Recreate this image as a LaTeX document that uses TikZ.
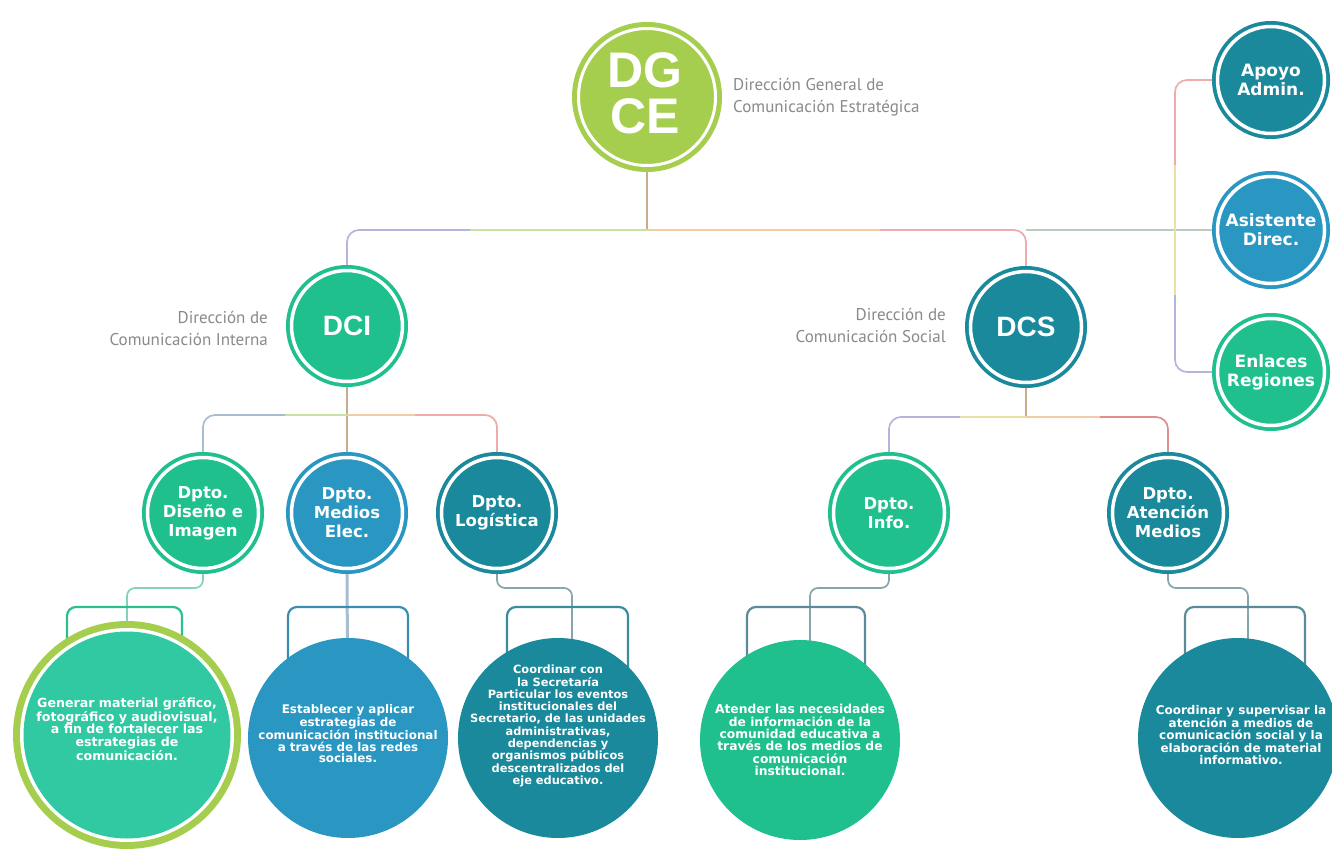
\documentclass[tikz,border=0pt]{standalone}
\usepackage{fontspec}
\setmainfont{Liberation Sans}
\newfontfamily\dvfont{DejaVu Sans}
\newfontfamily\labfont{PT Sans}
\pgfdeclarelayer{bg}
\pgfdeclarelayer{lines}
\pgfsetlayers{bg,lines,main}
\definecolor{lime}{HTML}{A6CE4E}
\definecolor{cgreen}{HTML}{1FBF8E}
\definecolor{cturq}{HTML}{30C9A2}
\definecolor{cblue}{HTML}{2A97C3}
\definecolor{cteal}{HTML}{19899B}
\definecolor{labgray}{HTML}{8A8A8A}
\definecolor{lTan}{HTML}{C9AC8C}
\definecolor{lLav}{HTML}{B5B4DC}
\definecolor{lGrn}{HTML}{C6E3A6}
\definecolor{lYel}{HTML}{E9E2A4}
\definecolor{lOrg}{HTML}{F4CBA6}
\definecolor{lPnk}{HTML}{EFAAAA}
\definecolor{lRed}{HTML}{E08E8E}
\definecolor{lGry}{HTML}{BCCBC2}
\definecolor{lBlu}{HTML}{A8BCD2}
\definecolor{lTl}{HTML}{86A6AE}
\definecolor{lTg}{HTML}{86D2B9}
\definecolor{bGrn}{HTML}{2BBE8E}
\definecolor{bBlu}{HTML}{3A8DB0}
\definecolor{bTl}{HTML}{3A8B9B}
\definecolor{bGy}{HTML}{5B8A98}
\begin{document}
\begin{tikzpicture}[x=1pt,y=-1pt,
 connline/.style={line width=1.7pt, rounded corners=12pt},
 brkline/.style={line width=2.2pt, rounded corners=9pt},
 unitbox/.style={circle, inner sep=0pt, text=white, align=center},
 deptbox/.style={unitbox, minimum size=122pt, font=\dvfont\bfseries\fontsize{16.5}{19}\selectfont,
   path picture={\draw[white,line width=3.5pt] (path picture bounding box.center) circle (55.5pt);}},
 sidebox/.style={unitbox, minimum size=118pt, font=\dvfont\bfseries\fontsize{17}{19}\selectfont,
   path picture={\draw[white,line width=3.5pt] (path picture bounding box.center) circle (53.5pt);}},
 dirbox/.style={deptbox, font=\bfseries\fontsize{28}{30}\selectfont},
 desccirc/.style={circle, inner sep=0pt, minimum size=200pt},
 desctext/.style={text=white, align=center, font=\dvfont\bfseries\fontsize{12.3}{12.3}\selectfont, inner sep=0pt},
 labtext/.style={text=labgray, font=\labfont\fontsize{17}{22}\selectfont, inner sep=0pt},
]
\useasboundingbox (0,0) rectangle (1332,848);
\begin{pgfonlayer}{bg}
\fill[white] (0,0) rectangle (1332,848);
\end{pgfonlayer}

% top
\node[unitbox, minimum size=150pt, fill=lime,
  path picture={\draw[white,line width=3pt] (path picture bounding box.center) circle (68.5pt);}]
  (DGCE) at (647,97) {};
\node[text=white, align=center, inner sep=0pt, font=\bfseries\fontsize{50}{46}\selectfont] (DGCEt) at (645,93) {DG\\CE};
\node[labtext, anchor=west, align=left] (DGCElab) at (733,97) {Dirección General de\\Comunicación Estratégica};

% directions
\node[dirbox, fill=cgreen] (DCI) at (347,326) {DCI};
\node[labtext, anchor=east, align=right] (DCIlab) at (268,328) {Dirección de\\Comunicación Interna};
\node[dirbox, fill=cteal] (DCS) at (1026,327) {DCS};
\node[labtext, anchor=east, align=right] (DCSlab) at (946,325) {Dirección de\\Comunicación Social};

% right column
\node[sidebox, fill=cteal] (Apoyo) at (1271,80) {Apoyo\\Admin.};
\node[sidebox, fill=cblue] (Asist) at (1271,230) {Asistente\\Direc.};
\node[sidebox, fill=cgreen] (Enlaces) at (1271,372) {Enlaces\\Regiones};

% departments
\node[deptbox, fill=cgreen] (Diseno) at (203,513) {Dpto.\\Diseño e\\Imagen};
\node[deptbox, fill=cblue] (Medios) at (347,513) {Dpto.\\Medios\\Elec.};
\node[deptbox, fill=cteal] (Logistica) at (497,513) {Dpto.\\Logística};
\node[deptbox, fill=cgreen] (Info) at (889,513) {Dpto.\\Info.};
\node[deptbox, fill=cteal] (Atencion) at (1168,513) {Dpto.\\Atención\\Medios};

% descriptions
\node[desccirc, minimum size=228pt, fill=lime,
  path picture={\fill[white] (path picture bounding box.center) circle (107pt);
                \fill[cturq] (path picture bounding box.center) circle (103.5pt);}] (D1) at (127,735) {};
\node[desctext, font=\dvfont\bfseries\fontsize{12.6}{12.3}\selectfont] (D1t) at (127,729) {Generar material gráfico,\\fotográfico y audiovisual,\\a fin de fortalecer las\\estrategias de\\comunicación.};
\node[desccirc, fill=cblue] (D2) at (348,738) {};
\node[desctext, font=\dvfont\bfseries\fontsize{11.9}{11.6}\selectfont] (D2t) at (348,734) {Establecer y aplicar\\estrategias de\\comunicación institucional\\a través de las redes\\sociales.};
\node[desccirc, fill=cteal] (D3) at (558,738) {};
\node[desctext, font=\dvfont\bfseries\fontsize{11.4}{12.3}\selectfont] (D3t) at (558,726) {Coordinar con\\la Secretaría\\Particular los eventos\\institucionales del\\Secretario, de las unidades\\administrativas,\\dependencias y\\organismos públicos\\descentralizados del\\eje educativo.};
\node[desccirc, fill=cgreen] (D4) at (800,740) {};
\node[desctext] (D4t) at (800,740) {Atender las necesidades\\de información de la\\comunidad educativa a\\través de los medios de\\comunicación\\institucional.};
\node[desccirc, fill=cteal] (D5) at (1238,738) {};
\node[desctext, font=\dvfont\bfseries\fontsize{12}{12}\selectfont] (D5t) at (1241,735) {Coordinar y supervisar la\\atención a medios de\\comunicación social y la\\elaboración de material\\informativo.};

\begin{pgfonlayer}{lines}
% main bus
\coordinate (bus) at (647,230);
\coordinate (busL) at (470,230);
\coordinate (busR) at (880,230);
\coordinate (busS) at (1026,230);
\coordinate (brkT) at (1175,165);
\coordinate (brkB) at (1175,295);
\draw[connline, lTan] (DGCE.south) -- (bus);
\draw[connline, lGrn] (bus) -- (busL);
\draw[connline, lLav] (busL) -| (DCI.north);
\draw[connline, lOrg] (bus) -- (busR);
\draw[connline, lPnk] (busR) -| (DCS.north);
\draw[connline, lGry] (busS) -- (Asist.west);
\draw[connline, lPnk] (Apoyo.west) -| (brkT);
\draw[connline, lYel] (brkT) -- (brkB);
\draw[connline, lLav] (brkB) |- (Enlaces.west);
% DCI level
\coordinate (ciB) at (347,415);
\coordinate (ciL) at (285,415);
\coordinate (ciR) at (415,415);
\draw[connline, lTan] (DCI.south) -- (Medios.north);
\draw[connline, lGrn] (ciB) -- (ciL);
\draw[connline, lBlu] (ciL) -| (Diseno.north);
\draw[connline, lOrg] (ciB) -- (ciR);
\draw[connline, lPnk] (ciR) -| (Logistica.north);
% DCS level
\coordinate (csB) at (1026,417);
\coordinate (csL) at (960,417);
\coordinate (csR) at (1100,417);
\draw[connline, lTan] (DCS.south) -- (csB);
\draw[connline, lYel] (csB) -- (csL);
\draw[connline, lLav] (csL) -| (Info.north);
\draw[connline, lOrg] (csB) -- (csR);
\draw[connline, lRed] (csR) -| (Atencion.north);
% lower connectors
\coordinate (k1) at (127,588);
\coordinate (k3) at (572,588);
\coordinate (k3e) at (572,680);
\coordinate (k4) at (810,588);
\coordinate (k4e) at (810,680);
\coordinate (k5) at (1248,588);
\coordinate (k5e) at (1248,680);
\draw[connline, lTg, rounded corners=8pt] (Diseno.south) |- (k1) -- (D1);
\draw[connline, lBlu, line width=3pt] (Medios.south) -- (D2);
\draw[connline, lTl, rounded corners=8pt] (Logistica.south) |- (k3) -- (k3e);
\draw[connline, lTl, rounded corners=8pt] (Info.south) |- (k4) -- (k4e);
\draw[connline, lTl, rounded corners=8pt] (Atencion.south) |- (k5) -- (k5e);
% brackets
\draw[brkline, bGrn] (67,690) |- (182,607) -- (182,690);
\draw[brkline, bBlu] (288,690) |- (408,607) -- (408,690);
\draw[brkline, bTl] (507,690) |- (628,607) -- (628,690);
\draw[brkline, bGy] (747,690) |- (865,607) -- (865,690);
\draw[brkline, bGy] (1185,690) |- (1305,607) -- (1305,690);
\end{pgfonlayer}
\end{tikzpicture}
\end{document}
